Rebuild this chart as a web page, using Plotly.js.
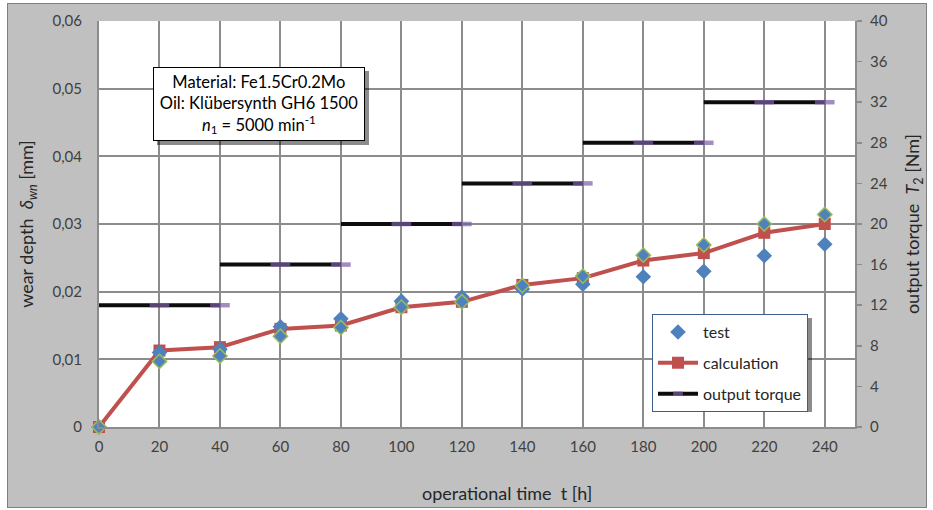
<!DOCTYPE html>
<html>
<head>
<meta charset="utf-8">
<script src="https://cdn.plot.ly/plotly-3.0.1.min.js"></script>
<style>
  html, body { margin: 0; padding: 0; background: #ffffff; }
  #frame { position: absolute; left: 7px; top: 3px; width: 920px; height: 505px;
           border: 1px solid #7f7f7f; box-sizing: border-box; background: #c0c0c0; }
  #chart { width: 918px; height: 503px; }
</style>
</head>
<body>
<div id="frame"><div id="chart"></div></div>
<script>
// ---- data ----
const time = [0, 20, 40, 60, 80, 100, 120, 140, 160, 180, 200, 220, 240];
const calculation = [0, 0.0113, 0.0118, 0.0145, 0.0150, 0.0177, 0.0185, 0.0210, 0.0220, 0.0246, 0.0257, 0.0287, 0.0300];
const testA = [0, 0.0110, 0.0115, 0.0148, 0.0160, 0.0186, 0.0192, 0.0204, 0.0211, 0.0222, 0.0230, 0.0253, 0.0270];
const testB = [0, 0.0097, 0.0105, 0.0134, 0.0147, 0.0177, 0.0185, 0.0209, 0.0223, 0.0254, 0.0269, 0.0300, 0.0314];
const stageStart = [0, 40, 80, 120, 160, 200];
const stageTorque = [12, 16, 20, 24, 28, 32];
const stageStep = 20;
const leftTicks = [0, 0.01, 0.02, 0.03, 0.04, 0.05, 0.06];
const leftTickText = ['0', '0,01', '0,02', '0,03', '0,04', '0,05', '0,06'];
const rightTicks = [0, 4, 8, 12, 16, 20, 24, 28, 32, 36, 40];

// build torque stage segments
const tqX = [], tqY = [], tqSize = [];
stageStart.forEach((s, i) => {
  [0, 1, 2].forEach(k => {
    tqX.push(s + k * stageStep);
    tqY.push(stageTorque[i]);
    tqSize.push(k === 0 ? 0 : 14);
  });
  tqX.push(null); tqY.push(null); tqSize.push(0);
});

const fam = 'Lato, "Open Sans", sans-serif';
const tickFont = {family: fam, size: 15, color: '#404040'};
const titleFont = {family: fam, size: 18, color: '#262626'};

const traces = [
  {
    x: tqX, y: tqY, yaxis: 'y2', name: 'output torque', mode: 'lines+markers',
    connectgaps: false, legendgroup: 'c', legendrank: 3, cliponaxis: false,
    line: {color: '#0d0d0d', width: 4},
    marker: {symbol: 'line-ew', size: tqSize, color: '#7b5ea7', line: {color: '#7b5ea7', width: 4.5}}
  },
  {
    x: time, y: calculation, name: 'calculation', mode: 'lines+markers',
    legendgroup: 'b', legendrank: 2, cliponaxis: false,
    line: {color: '#c0504d', width: 4},
    marker: {symbol: 'square', size: 12, color: '#c0504d'}
  },
  {
    x: time, y: testA, name: 'test', mode: 'markers',
    legendgroup: 'a', legendrank: 1, cliponaxis: false,
    marker: {symbol: 'diamond', size: 12, color: '#4f81bd'}
  },
  {
    x: time, y: testB, name: 'test', mode: 'markers', showlegend: false,
    legendgroup: 'a', cliponaxis: false,
    marker: {symbol: 'diamond', size: 11, color: '#4f81bd', line: {color: '#9bbb59', width: 1.5}}
  }
];

const layout = {
  width: 918, height: 503,
  margin: {l: 91, r: 71, t: 17, b: 80},
  paper_bgcolor: '#c0c0c0',
  plot_bgcolor: '#ffffff',
  showlegend: true,
  xaxis: {
    range: [0, 250], tickvals: time, showgrid: true, gridcolor: '#8c8c8c', gridwidth: 2,
    zeroline: false, showline: true, linecolor: '#8c8c8c', linewidth: 2,
    tickfont: tickFont, ticklabelstandoff: 5
  },
  yaxis: {
    range: [0, 0.06], tickvals: leftTicks, ticktext: leftTickText,
    showgrid: true, gridcolor: '#8c8c8c', gridwidth: 2, zeroline: false,
    showline: true, linecolor: '#8c8c8c', linewidth: 2,
    tickfont: tickFont, ticklabelstandoff: 12,
    title: {text: 'wear depth  <i>δ</i><sub><i>wn</i></sub> [mm]', font: titleFont, standoff: 14}
  },
  yaxis2: {
    overlaying: 'y', side: 'right', range: [0, 40], tickvals: rightTicks,
    showgrid: false, zeroline: false, showline: true, linecolor: '#8c8c8c', linewidth: 2,
    ticks: 'outside', ticklen: 5, tickcolor: '#8c8c8c', tickwidth: 1.5,
    tickfont: tickFont, ticklabelstandoff: 5,
    title: {text: 'output torque  <i>T</i><sub>2</sub> [Nm]', font: titleFont, standoff: 23}
  },
  legend: {
    x: 0.7315, y: 0.278, xanchor: 'left', yanchor: 'top',
    bgcolor: '#ffffff', bordercolor: '#3a5f8f', borderwidth: 1,
    font: {family: fam, size: 16, color: '#262626'},
    traceorder: 'grouped', tracegroupgap: 7, itemwidth: 40
  },
  annotations: [{
    xref: 'paper', yref: 'paper', x: 0.2116, y: 0.7956, xanchor: 'center', yanchor: 'middle',
    text: 'Material: Fe1.5Cr0.2Mo<br>Oil: Klübersynth GH6 1500<br><i>n</i><sub>1</sub> = 5000 min<sup>-1</sup>',
    showarrow: false, align: 'center',
    font: {family: fam, size: 16.5, color: '#000000'},
    bgcolor: '#ffffff', bordercolor: '#000000', borderwidth: 1, borderpad: 3,
    width: 204, height: 66
  }, {
    xref: 'paper', yref: 'paper', x: (507 - 99) / 756, y: (427 - 493) / 406,
    xanchor: 'center', yanchor: 'middle', showarrow: false,
    text: 'operational time  t [h]', font: titleFont
  }],
  shapes: [
    {type: 'rect', xref: 'paper', yref: 'paper', layer: 'above',
     x0: (157 - 99) / 756, x1: (369 - 99) / 756, y0: (427 - 145) / 406, y1: (427 - 71) / 406,
     fillcolor: 'rgba(0,0,0,0.45)', line: {width: 0}},
    {type: 'rect', xref: 'paper', yref: 'paper', layer: 'above',
     x0: (656 - 99) / 756, x1: (812 - 99) / 756, y0: (427 - 412) / 406, y1: (427 - 318) / 406,
     fillcolor: 'rgba(0,0,0,0.45)', line: {width: 0}}
  ]
};

Plotly.newPlot('chart', traces, layout, {displayModeBar: false, staticPlot: true});
</script>
</body>
</html>
